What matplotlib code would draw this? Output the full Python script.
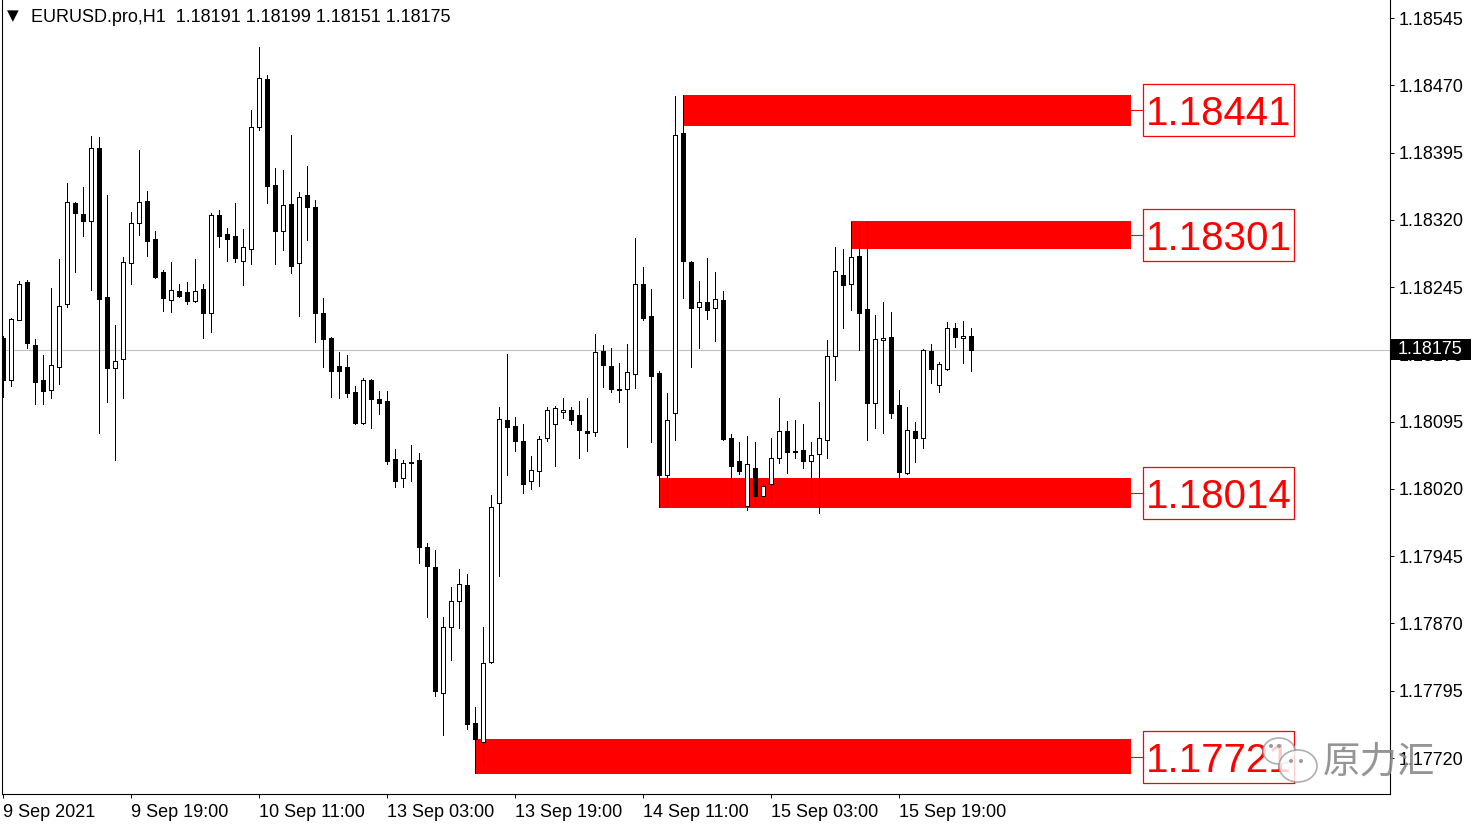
import numpy as np
import matplotlib
matplotlib.use("Agg")
import matplotlib.pyplot as plt
from matplotlib.patches import Rectangle, Ellipse
from matplotlib.transforms import blended_transform_factory

plt.rcParams["font.family"] = ["Liberation Sans", "DejaVu Sans"]

# ── データ (EURUSD H1) ─────────────────────────────────────────────
opens = [1.18188, 1.18141, 1.18208, 1.18251, 1.18181, 1.18141, 1.18130, 1.18156, 1.18226, 1.18339,
         1.18326, 1.18319, 1.18400, 1.18234, 1.18155, 1.18165, 1.18272, 1.18316, 1.18341, 1.18299,
         1.18262, 1.18231, 1.18241, 1.18239, 1.18229, 1.18243, 1.18216, 1.18325, 1.18304, 1.18302,
         1.18274, 1.18287, 1.18423, 1.18477, 1.18359, 1.18308, 1.18338, 1.18272, 1.18348, 1.18334,
         1.18216, 1.18188, 1.18157, 1.18156, 1.18128, 1.18093, 1.18141, 1.18120, 1.18118, 1.18053,
         1.18032, 1.18050, 1.18052, 1.17955, 1.17933, 1.17792, 1.17866, 1.17895, 1.17913, 1.17759,
         1.17738, 1.17827, 1.18004, 1.18097, 1.18090, 1.18073, 1.18029, 1.18040, 1.18077, 1.18092,
         1.18106, 1.18108, 1.18102, 1.18085, 1.18083, 1.18174, 1.18157, 1.18131, 1.18131, 1.18148,
         1.18248, 1.18213, 1.18149, 1.18035, 1.18105, 1.18417, 1.18273, 1.18223, 1.18228, 1.18222,
         1.18231, 1.18077, 1.18051, 1.18001, 1.18043, 1.18012, 1.18026, 1.18055, 1.18085, 1.18062,
         1.18063, 1.18051, 1.18059, 1.18074, 1.18168, 1.18258, 1.18248, 1.18280, 1.18221, 1.18116,
         1.18186, 1.18189, 1.18114, 1.18038, 1.18085, 1.18077, 1.18174, 1.18136, 1.18154, 1.18199,
         1.18188, 1.18191]
highs = [1.18190, 1.18210, 1.18252, 1.18253, 1.18187, 1.18169, 1.18244, 1.18276, 1.18361, 1.18340,
         1.18357, 1.18413, 1.18412, 1.18348, 1.18203, 1.18279, 1.18329, 1.18398, 1.18352, 1.18308,
         1.18264, 1.18273, 1.18248, 1.18251, 1.18276, 1.18249, 1.18328, 1.18331, 1.18311, 1.18339,
         1.18310, 1.18442, 1.18513, 1.18481, 1.18378, 1.18376, 1.18415, 1.18351, 1.18380, 1.18342,
         1.18233, 1.18189, 1.18173, 1.18169, 1.18135, 1.18144, 1.18142, 1.18129, 1.18129, 1.18064,
         1.18052, 1.18069, 1.18060, 1.17960, 1.17952, 1.17877, 1.17911, 1.17931, 1.17925, 1.17777,
         1.17866, 1.18013, 1.18111, 1.18170, 1.18100, 1.18092, 1.18057, 1.18079, 1.18111, 1.18112,
         1.18121, 1.18111, 1.18118, 1.18121, 1.18193, 1.18180, 1.18177, 1.18160, 1.18182, 1.18300,
         1.18267, 1.18243, 1.18152, 1.18127, 1.18458, 1.18459, 1.18274, 1.18252, 1.18277, 1.18262,
         1.18241, 1.18081, 1.18072, 1.18079, 1.18072, 1.18026, 1.18077, 1.18121, 1.18096, 1.18097,
         1.18092, 1.18072, 1.18117, 1.18186, 1.18290, 1.18287, 1.18318, 1.18316, 1.18318, 1.18214,
         1.18228, 1.18217, 1.18130, 1.18111, 1.18095, 1.18176, 1.18182, 1.18161, 1.18206, 1.18205,
         1.18207, 1.18199]
lows = [1.18122, 1.18135, 1.18208, 1.18177, 1.18115, 1.18115, 1.18121, 1.18137, 1.18223, 1.18262,
        1.18302, 1.18242, 1.18082, 1.18117, 1.18052, 1.18121, 1.18248, 1.18303, 1.18280, 1.18255,
        1.18218, 1.18217, 1.18234, 1.18226, 1.18228, 1.18188, 1.18195, 1.18290, 1.18274, 1.18273,
        1.18247, 1.18271, 1.18420, 1.18339, 1.18271, 1.18286, 1.18261, 1.18213, 1.18297, 1.18184,
        1.18156, 1.18122, 1.18121, 1.18122, 1.18092, 1.18092, 1.18088, 1.18103, 1.18048, 1.18022,
        1.18022, 1.18029, 1.17937, 1.17877, 1.17789, 1.17746, 1.17829, 1.17865, 1.17752, 1.17703,
        1.17714, 1.17826, 1.17923, 1.18035, 1.18062, 1.18015, 1.18020, 1.18023, 1.18073, 1.18045,
        1.18099, 1.18092, 1.18055, 1.18062, 1.18079, 1.18134, 1.18128, 1.18117, 1.18067, 1.18132,
        1.18208, 1.18072, 1.18000, 1.18001, 1.18074, 1.18233, 1.18156, 1.18177, 1.18209, 1.18185,
        1.18075, 1.18001, 1.18037, 1.17996, 1.18004, 1.18005, 1.18009, 1.18049, 1.18038, 1.18055,
        1.18043, 1.18008, 1.17993, 1.18055, 1.18141, 1.18199, 1.18219, 1.18175, 1.18074, 1.18088,
        1.18082, 1.18099, 1.18033, 1.18037, 1.18050, 1.18066, 1.18138, 1.18128, 1.18153, 1.18178,
        1.18160, 1.18151]
closes = [1.18141, 1.18209, 1.18248, 1.18183, 1.18139, 1.18129, 1.18158, 1.18224, 1.18340, 1.18328,
          1.18319, 1.18400, 1.18232, 1.18155, 1.18163, 1.18273, 1.18316, 1.18340, 1.18296, 1.18256,
          1.18233, 1.18242, 1.18235, 1.18229, 1.18241, 1.18216, 1.18325, 1.18302, 1.18299, 1.18277,
          1.18290, 1.18423, 1.18478, 1.18358, 1.18308, 1.18336, 1.18268, 1.18345, 1.18334, 1.18216,
          1.18187, 1.18151, 1.18151, 1.18127, 1.18093, 1.18141, 1.18120, 1.18116, 1.18051, 1.18029,
          1.18049, 1.18049, 1.17955, 1.17934, 1.17795, 1.17866, 1.17895, 1.17914, 1.17758, 1.17741,
          1.17826, 1.18000, 1.18098, 1.18089, 1.18073, 1.18026, 1.18041, 1.18076, 1.18108, 1.18110,
          1.18108, 1.18097, 1.18086, 1.18082, 1.18173, 1.18158, 1.18131, 1.18130, 1.18150, 1.18248,
          1.18210, 1.18146, 1.18035, 1.18097, 1.18415, 1.18274, 1.18222, 1.18228, 1.18219, 1.18232,
          1.18076, 1.18045, 1.18040, 1.18048, 1.18012, 1.18023, 1.18055, 1.18085, 1.18061, 1.18061,
          1.18051, 1.18058, 1.18077, 1.18168, 1.18263, 1.18247, 1.18279, 1.18216, 1.18116, 1.18187,
          1.18188, 1.18105, 1.18039, 1.18086, 1.18077, 1.18175, 1.18154, 1.18159, 1.18199, 1.18189,
          1.18191, 1.18175]

# 時間軸ラベル (16 本ごと)
date_ticks = [0, 16, 32, 48, 64, 80, 96, 112]
date_labels = ["9 Sep 2021", "9 Sep 19:00", "10 Sep 11:00", "13 Sep 03:00",
               "13 Sep 19:00", "14 Sep 11:00", "15 Sep 03:00", "15 Sep 19:00"]
price_ticks = [1.18545, 1.18470, 1.18395, 1.18320, 1.18245, 1.18170,
               1.18095, 1.18020, 1.17945, 1.17870, 1.17795, 1.17720]

# サポート / レジスタンス帯: 開始バー, 上限, 下限, ラベル
zone_start = [85, 106, 82, 59]
zone_top = [1.18459, 1.18319, 1.18032, 1.17741]
zone_bottom = [1.18425, 1.18287, 1.17999, 1.17702]
zone_label = ["1.18441", "1.18301", "1.18014", "1.17721"]
zone_end = 141

last_price = 1.18175
title = "EURUSD.pro,H1  1.18191 1.18199 1.18151 1.18175"

# ── 図 ─────────────────────────────────────────────────────────────
W, H = 1481, 827
fig = plt.figure(figsize=(W / 100, H / 100), dpi=100)
ax = fig.add_axes([2 / W, 33 / H, 1388 / W, 794 / H])

x = np.arange(len(opens))
o = np.array(opens)
c = np.array(closes)
up = c >= o

ax.vlines(x, lows, highs, color="black", lw=0.72, zorder=3, antialiased=False)
ax.bar(x, np.abs(c - o), bottom=np.minimum(o, c), width=0.5,
       color=np.where(up, "white", "black"), edgecolor="black", lw=0.72,
       zorder=4, antialiased=False)

# 現在値ライン
ax.axhline(last_price, color="#c0c0c0", lw=0.8, zorder=1)

# 帯とラベル
box_h = 0.00058
for s, t, b, lab in zip(zone_start, zone_top, zone_bottom, zone_label):
    ax.add_patch(Rectangle((s, b), zone_end - s, t - b, facecolor="#ff0000",
                           edgecolor="none", zorder=2))
    mid = (t + b) / 2
    ax.plot([zone_end, 142.45], [mid, mid], color="#ff0000", lw=0.8, zorder=2)
    ax.add_patch(Rectangle((142.45, mid - box_h / 2), 18.9, box_h, facecolor="white",
                           edgecolor="#ff0000", lw=0.9, zorder=2))
    ax.text(151.9, mid, lab, color="#ff0000", fontsize=29, ha="center",
            va="center_baseline", zorder=3)

# 軸
ax.set_xlim((2 - 3.3) / 8, (1390 - 3.3) / 8)
ax.set_ylim(1.1767987, 1.1856507)
ax.yaxis.tick_right()
ax.set_yticks(price_ticks)
ax.set_yticklabels([f"{p:.5f}" for p in price_ticks])
ax.set_xticks(date_ticks)
ax.set_xticklabels(date_labels, ha="left")
ax.tick_params(axis="y", length=3, width=0.7, pad=3.4, labelsize=13)
ax.tick_params(axis="x", length=3, width=0.7, pad=4, labelsize=13)
for side in ["left", "right", "bottom"]:
    ax.spines[side].set_linewidth(0.8)
ax.spines["top"].set_visible(False)

# 現在値ボックス
tr = blended_transform_factory(ax.transAxes, ax.transData)
ax.add_patch(Rectangle((1.0007, last_price - 0.000117), 0.0576, 0.000234,
                       facecolor="black", edgecolor="none", transform=tr,
                       clip_on=False, zorder=5))
ax.text(1.0058, last_price, f"{last_price:.5f}", color="white", fontsize=13,
        ha="left", va="center", transform=tr, clip_on=False, zorder=6)

# タイトル
fig.text(7 / W, 1 - 16 / H, "\u25bc", fontsize=11, family=["DejaVu Sans"],
         ha="left", va="center")
fig.text(31 / W, 1 - 17 / H, title, fontsize=13, ha="left", va="center")

# 透かし
def fx(px):
    return px / W

def fy(py):
    return 1 - py / H

for cx, cy, w, h in [(1279, 751, 32, 26), (1298, 766, 38, 32)]:
    fig.patches.append(Ellipse((fx(cx), fy(cy)), w / W, h / H, transform=fig.transFigure,
                               facecolor="white", alpha=0.8, edgecolor="#9a9a9a",
                               lw=1.2, zorder=7))
for cx, cy in [(1271, 746), (1279, 746), (1291, 761), (1301, 761)]:
    fig.patches.append(Ellipse((fx(cx), fy(cy)), 4 / W, 4 / H, transform=fig.transFigure,
                               facecolor="#9a9a9a", edgecolor="none", zorder=8))
fig.text(fx(1323), fy(762), "原力汇", fontsize=27, color="#8a8a8a", alpha=0.9,
         family=["Noto Sans CJK SC", "DejaVu Sans"], ha="left", va="center", zorder=9)

fig.savefig("out.png", dpi=100)
